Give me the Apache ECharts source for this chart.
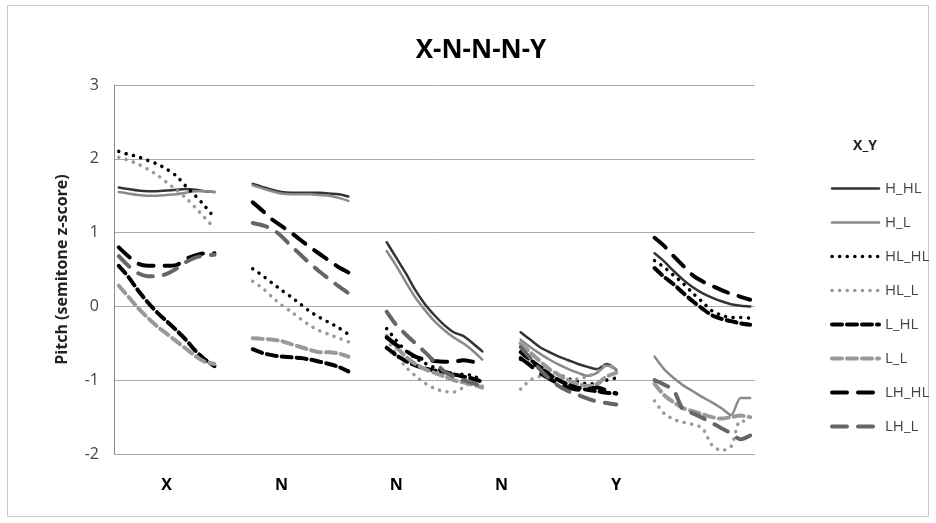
<!DOCTYPE html>
<html>
<head>
<meta charset="utf-8">
<script src="https://cdn.jsdelivr.net/npm/echarts@6/dist/echarts.min.js"></script>
<style>
  html, body { margin: 0; padding: 0; background: #fff; }
  #chart { width: 936px; height: 523px; }
</style>
</head>
<body>
<div id="chart"></div>
<script>
// Syllable positions along the utterance; each holds 11 time-normalised samples.
const groupLabels = ['X', 'N', 'N', 'N', 'Y'];
const pointsPerGroup = 11;
const gapBetweenGroups = 3;
// Category index at which each group's label is printed.
const labelIndex = [5, 17, 29, 40, 52];

const seriesNames = ['H_HL', 'H_L', 'HL_HL', 'HL_L', 'L_HL', 'L_L', 'LH_HL', 'LH_L'];

// Pitch contours (semitone z-score), one row per syllable position X, N, N, N, Y.
const H_HL = [
  [1.61, 1.59, 1.57, 1.56, 1.56, 1.57, 1.58, 1.59, 1.58, 1.56, 1.55],
  [1.66, 1.62, 1.58, 1.55, 1.54, 1.54, 1.54, 1.54, 1.53, 1.52, 1.49],
  [0.87, 0.66, 0.45, 0.22, 0.03, -0.12, -0.25, -0.35, -0.40, -0.50, -0.61],
  [-0.35, -0.45, -0.55, -0.62, -0.68, -0.73, -0.78, -0.82, -0.85, -0.78, -0.86],
  [0.72, 0.61, 0.48, 0.36, 0.26, 0.18, 0.12, 0.07, 0.03, 0.01, 0.00]
];
const H_L = [
  [1.55, 1.53, 1.51, 1.50, 1.50, 1.51, 1.52, 1.54, 1.56, 1.56, 1.55],
  [1.64, 1.60, 1.56, 1.53, 1.52, 1.52, 1.52, 1.51, 1.50, 1.47, 1.43],
  [0.75, 0.55, 0.33, 0.12, -0.05, -0.20, -0.32, -0.42, -0.50, -0.60, -0.72],
  [-0.45, -0.55, -0.64, -0.72, -0.79, -0.85, -0.90, -0.94, -0.90, -0.80, -0.85],
  [-0.68, -0.85, -0.97, -1.07, -1.15, -1.23, -1.30, -1.38, -1.47, -1.24, -1.24]
];
const HL_HL = [
  [2.10, 2.06, 2.03, 1.98, 1.93, 1.86, 1.77, 1.63, 1.50, 1.36, 1.20],
  [0.51, 0.42, 0.32, 0.22, 0.13, 0.03, -0.07, -0.15, -0.22, -0.29, -0.38],
  [-0.30, -0.46, -0.60, -0.70, -0.77, -0.83, -0.88, -0.92, -0.92, -0.94, -1.00],
  [-0.72, -0.78, -0.82, -0.86, -0.92, -0.98, -1.02, -1.05, -1.04, -1.00, -0.97],
  [0.62, 0.53, 0.42, 0.31, 0.18, 0.06, -0.06, -0.12, -0.15, -0.15, -0.16]
];
const HL_L = [
  [2.02, 1.98, 1.93, 1.86, 1.78, 1.68, 1.58, 1.47, 1.34, 1.20, 1.06],
  [0.34, 0.25, 0.13, 0.02, -0.07, -0.17, -0.26, -0.33, -0.38, -0.43, -0.48],
  [-0.43, -0.65, -0.82, -0.94, -1.04, -1.11, -1.15, -1.16, -1.10, -1.03, -1.08],
  [-1.12, -1.00, -0.95, -0.95, -0.98, -1.00, -0.98, -0.95, -0.88, -0.80, -0.85],
  [-1.28, -1.45, -1.53, -1.57, -1.60, -1.65, -1.88, -1.95, -1.90, -1.55, -1.57]
];
const L_HL = [
  [0.55, 0.40, 0.22, 0.06, -0.08, -0.20, -0.32, -0.45, -0.60, -0.72, -0.81],
  [-0.58, -0.63, -0.66, -0.68, -0.69, -0.70, -0.72, -0.75, -0.78, -0.82, -0.88],
  [-0.56, -0.66, -0.74, -0.80, -0.84, -0.87, -0.89, -0.92, -0.95, -0.98, -1.02],
  [-0.62, -0.72, -0.82, -0.92, -1.00, -1.06, -1.10, -1.13, -1.15, -1.17, -1.18],
  [0.52, 0.40, 0.30, 0.18, 0.07, -0.03, -0.12, -0.17, -0.20, -0.23, -0.25]
];
const L_L = [
  [0.28, 0.13, -0.02, -0.15, -0.27, -0.37, -0.47, -0.57, -0.67, -0.75, -0.78],
  [-0.43, -0.44, -0.45, -0.47, -0.51, -0.55, -0.59, -0.62, -0.62, -0.64, -0.68],
  [-0.40, -0.55, -0.68, -0.78, -0.85, -0.90, -0.95, -1.00, -1.03, -1.06, -1.10],
  [-0.50, -0.62, -0.74, -0.85, -0.93, -1.00, -1.05, -1.08, -1.05, -0.95, -0.90],
  [-1.05, -1.20, -1.30, -1.38, -1.42, -1.46, -1.50, -1.52, -1.50, -1.48, -1.50]
];
const LH_HL = [
  [0.80, 0.68, 0.58, 0.55, 0.55, 0.55, 0.56, 0.64, 0.69, 0.72, 0.72],
  [1.41, 1.30, 1.18, 1.09, 1.00, 0.90, 0.80, 0.71, 0.62, 0.53, 0.46],
  [-0.42, -0.52, -0.60, -0.68, -0.72, -0.74, -0.75, -0.75, -0.73, -0.75, -0.78],
  [-0.70, -0.80, -0.90, -0.98, -1.05, -1.10, -1.13, -1.12, -1.10, -1.14, -1.18],
  [0.93, 0.82, 0.68, 0.55, 0.42, 0.34, 0.28, 0.22, 0.17, 0.13, 0.09]
];
const LH_L = [
  [0.68, 0.55, 0.45, 0.41, 0.41, 0.44, 0.51, 0.60, 0.66, 0.69, 0.70],
  [1.13, 1.10, 1.05, 0.95, 0.82, 0.70, 0.58, 0.47, 0.37, 0.27, 0.18],
  [-0.07, -0.25, -0.38, -0.50, -0.62, -0.75, -0.88, -0.95, -1.00, -1.04, -1.08],
  [-0.55, -0.70, -0.85, -0.98, -1.08, -1.15, -1.20, -1.25, -1.29, -1.31, -1.33],
  [-1.00, -1.06, -1.14, -1.40, -1.45, -1.51, -1.58, -1.65, -1.72, -1.80, -1.75]
];

const seriesValues = { H_HL, H_L, HL_HL, HL_L, L_HL, L_L, LH_HL, LH_L };

// Line appearance per contour type.
const styles = {
  H_HL:  { color: '#333333', width: 2.5, type: 'solid', cap: 'round' },
  H_L:   { color: '#8a8a8a', width: 2.5, type: 'solid', cap: 'round' },
  HL_HL: { color: '#000000', width: 3.5, type: [0.1, 7.5], cap: 'round' },
  HL_L:  { color: '#999999', width: 3.5, type: [0.1, 7.5], cap: 'round' },
  L_HL:  { color: '#000000', width: 4, type: [10, 5], cap: 'round' },
  L_L:   { color: '#999999', width: 4, type: [10, 5], cap: 'round' },
  LH_HL: { color: '#000000', width: 4, type: [15, 11], cap: 'round' },
  LH_L:  { color: '#666666', width: 4, type: [15, 11], cap: 'round' }
};

// Flatten the groups onto one category axis, leaving empty slots between syllables.
const totalCats = groupLabels.length * pointsPerGroup + (groupLabels.length - 1) * gapBetweenGroups;
const categories = [];
for (let i = 0; i < totalCats; i++) {
  const k = labelIndex.indexOf(i);
  categories.push(k >= 0 ? groupLabels[k] : '');
}
function flatten(groups) {
  const out = [];
  groups.forEach((g, gi) => {
    g.forEach(v => out.push(v));
    if (gi < groups.length - 1) {
      for (let j = 0; j < gapBetweenGroups; j++) out.push(null);
    }
  });
  return out;
}

function lineStyleOf(name) {
  const s = styles[name];
  return { color: s.color, width: s.width, type: s.type, cap: s.cap };
}

const FONT = '"Open Sans", "Noto Sans", sans-serif';

const chart = echarts.init(document.getElementById('chart'), null, { renderer: 'canvas' });
chart.setOption({
  backgroundColor: '#ffffff',
  animation: false,
  title: {
    text: 'X-N-N-N-Y',
    left: 476, top: 33, textAlign: 'center',
    textStyle: { fontFamily: FONT, fontSize: 26, fontWeight: 'bold', color: '#000' }
  },
  grid: { left: 114, right: 181, top: 85, bottom: 69, containLabel: false },
  legend: {
    orient: 'vertical',
    left: 825, top: 176,
    itemWidth: 47, itemHeight: 14, itemGap: 19,
    textStyle: { fontFamily: FONT, fontSize: 15, color: '#444', padding: [0, 0, 0, 1] },
    data: seriesNames.map(name => ({
      name,
      itemStyle: { opacity: 0 },
      lineStyle: lineStyleOf(name)
    }))
  },
  xAxis: {
    type: 'category',
    data: categories,
    boundaryGap: true,
    axisLine: { show: false },
    axisTick: { show: false },
    axisLabel: {
      interval: 0,
      margin: 23,
      fontFamily: FONT, fontSize: 16, fontWeight: 'bold', color: '#000'
    }
  },
  yAxis: {
    type: 'value',
    min: -2, max: 3, interval: 1,
    name: 'Pitch (semitone z-score)',
    nameLocation: 'middle',
    nameGap: 44,
    nameTextStyle: { fontFamily: FONT, fontSize: 16, fontWeight: 'bold', color: '#222' },
    axisLine: { show: true, lineStyle: { color: '#888', width: 1 } },
    axisTick: { show: false },
    axisLabel: { margin: 15, fontFamily: FONT, fontSize: 16, color: '#444' },
    splitLine: { lineStyle: { color: '#aaa', width: 1 } }
  },
  series: seriesNames.map(name => ({
    name,
    type: 'line',
    data: flatten(seriesValues[name]),
    connectNulls: false,
    smooth: 0.3,
    symbol: 'none',
    showSymbol: false,
    color: styles[name].color,
    lineStyle: lineStyleOf(name)
  })),
  graphic: [
    {
      type: 'rect',
      shape: { x: 7.5, y: 5.5, width: 921, height: 511 },
      style: { fill: 'none', stroke: '#c8c8c8', lineWidth: 1 },
      silent: true
    },
    {
      type: 'text',
      x: 865, y: 146,
      style: {
        text: 'X_Y', fontFamily: FONT, fontSize: 14, fontWeight: 'bold', fill: '#222',
        align: 'center', verticalAlign: 'middle'
      }
    }
  ]
});
</script>
</body>
</html>
